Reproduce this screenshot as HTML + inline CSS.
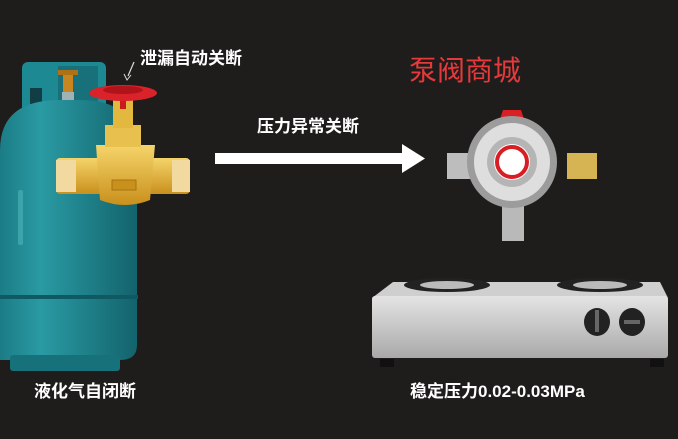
<!DOCTYPE html>
<html><head><meta charset="utf-8"><style>
html,body{margin:0;padding:0;background:#1e1d1c;width:678px;height:439px;overflow:hidden}
svg{display:block}
text{font-family:"Liberation Sans","Noto Sans CJK SC",sans-serif}
</style></head><body>
<svg width="678" height="439" viewBox="0 0 678 439">
<defs>
<linearGradient id="teal" x1="0" x2="1"><stop offset="0" stop-color="#1b7c86"/><stop offset="0.3" stop-color="#2a9aa3"/><stop offset="1" stop-color="#13636c"/></linearGradient>
<linearGradient id="brass" x1="0" x2="0" y1="0" y2="1"><stop offset="0" stop-color="#f5d46a"/><stop offset="1" stop-color="#c9901c"/></linearGradient>
<linearGradient id="steel" x1="0" x2="0" y1="0" y2="1"><stop offset="0" stop-color="#e4e4e4"/><stop offset="1" stop-color="#a9a9a9"/></linearGradient>
</defs>
<rect width="678" height="439" fill="#1e1d1c"/>
<rect x="22" y="62" width="84" height="80" rx="6" fill="#1d8a93"/>
<rect x="30" y="88" width="12" height="16" fill="#103e44"/>
<rect x="58" y="66" width="40" height="60" fill="#17707a"/>
<path d="M0 150 Q0 100 60 100 L80 100 Q137 100 137 150 L137 345 Q137 360 120 360 L10 360 L0 360 Z" fill="url(#teal)"/>
<rect x="0" y="295" width="138" height="4" fill="#0f5a62"/>
<rect x="10" y="355" width="110" height="16" rx="3" fill="#17717a"/>
<rect x="18" y="190" width="5" height="55" rx="2" fill="#4fb4bb" opacity=".6"/>
<rect x="63" y="72" width="10" height="22" fill="#c7861f"/>
<rect x="58" y="70" width="20" height="5" fill="#b07016"/>
<rect x="62" y="92" width="12" height="8" fill="#9fb3b6"/>
<rect x="56" y="158" width="134" height="36" rx="4" fill="url(#brass)"/>
<rect x="56" y="160" width="20" height="32" fill="#f2d9a0"/>
<rect x="172" y="160" width="18" height="32" fill="#f2d9a0"/>
<path d="M96 145 L155 145 L150 200 Q125 210 100 200 Z" fill="url(#brass)"/>
<rect x="105" y="125" width="36" height="22" fill="#e8c04d"/>
<rect x="113" y="100" width="20" height="28" fill="#e2b83e"/>
<rect x="112" y="180" width="24" height="10" fill="#c9901c" stroke="#a8730f"/>
<rect x="120" y="95" width="6" height="14" fill="#c81d1d"/>
<ellipse cx="123" cy="93" rx="34" ry="8" fill="#d9222a"/>
<ellipse cx="123" cy="90" rx="20" ry="4" fill="#b0141a"/>
<text x="140" y="64" font-size="17" font-weight="bold" fill="#fff">泄漏自动关断</text>
<path d="M134 62 L128 76" stroke="#ddd" stroke-width="1.2"/>
<path d="M124 74 L127 80 L131 75" stroke="#ddd" fill="none"/>
<text x="257" y="132" font-size="17" font-weight="bold" fill="#fff">压力异常关断</text>
<rect x="215" y="153" width="190" height="11" fill="#fff"/>
<polygon points="402,144 425,158.5 402,173" fill="#fff"/>
<text x="409" y="80" font-size="28" fill="#e5393b">泵阀商城</text>
<polygon points="503,110 521,110 525,122 499,122" fill="#d82025"/>
<rect x="447" y="153" width="30" height="26" fill="#bdbdbd"/>
<rect x="567" y="153" width="30" height="26" fill="#d6b454"/>
<rect x="502" y="205" width="22" height="36" fill="#b9b9b9"/>
<ellipse cx="512" cy="162" rx="45" ry="46" fill="#9c9c9c"/>
<ellipse cx="512" cy="162" rx="38" ry="39" fill="#dedede"/>
<circle cx="512" cy="162" r="25" fill="#b5b5b5"/>
<circle cx="512" cy="162" r="18" fill="#fff"/>
<circle cx="512" cy="162" r="15" fill="none" stroke="#d81e24" stroke-width="4"/>
<rect x="380" y="359" width="14" height="8" fill="#111"/>
<rect x="650" y="359" width="14" height="8" fill="#111"/>
<polygon points="393,282 660,282 668,298 372,298" fill="#cfcfcf"/>
<rect x="372" y="296" width="296" height="62" rx="3" fill="url(#steel)"/>
<ellipse cx="447" cy="285" rx="43" ry="7" fill="#222"/>
<ellipse cx="447" cy="285" rx="27" ry="4" fill="#bbb"/>
<ellipse cx="600" cy="285" rx="43" ry="7" fill="#222"/>
<ellipse cx="600" cy="285" rx="27" ry="4" fill="#bbb"/>
<ellipse cx="597" cy="322" rx="13" ry="14" fill="#222"/>
<rect x="595" y="310" width="4" height="22" fill="#666"/>
<ellipse cx="632" cy="322" rx="13" ry="14" fill="#222"/>
<rect x="624" y="320" width="16" height="4" fill="#666"/>
<text x="34" y="397" font-size="17" font-weight="bold" fill="#fff">液化气自闭断</text>
<text x="410" y="397" font-size="17" font-weight="bold" fill="#fff">稳定压力0.02-0.03MPa</text>
</svg>
</body></html>
